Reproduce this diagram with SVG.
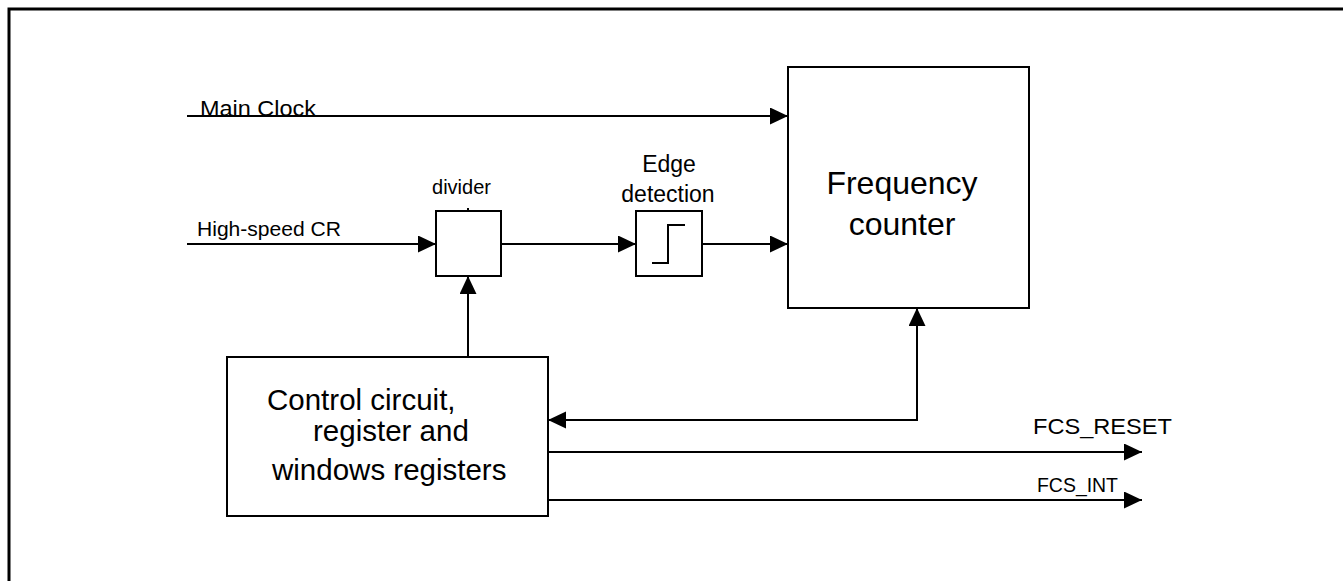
<svg xmlns="http://www.w3.org/2000/svg" width="1343" height="581" viewBox="0 0 1343 581">
<style>
.box{fill:#fff;stroke:#000;stroke-width:2}
.ln{fill:none;stroke:#000;stroke-width:2}
.t{font-family:"Liberation Sans",Arial,sans-serif;fill:#000}
</style>
<defs>
<marker id="ah" markerUnits="userSpaceOnUse" markerWidth="19" markerHeight="18" refX="18" refY="8.5" orient="auto-start-reverse">
<path d="M0,0 L18,8.5 L0,17 z" fill="#000"/>
</marker>
</defs>
<rect width="1343" height="581" fill="#fff"/>
<path d="M9,581 V9 H1343" fill="none" stroke="#000" stroke-width="3"/>

<g id="connectors">
<path class="ln" d="M187,116 H788" marker-end="url(#ah)"/>
<path class="ln" d="M187,244 H436" marker-end="url(#ah)"/>
<path class="ln" d="M501,244 H636" marker-end="url(#ah)"/>
<path class="ln" d="M702,244 H788" marker-end="url(#ah)"/>
<path class="ln" d="M468,357 V276" marker-end="url(#ah)"/>
<path class="ln" d="M917,308 V420 H548" marker-start="url(#ah)" marker-end="url(#ah)"/>
<path class="ln" d="M548,452 H1142" marker-end="url(#ah)"/>
<path class="ln" d="M548,500 H1142" marker-end="url(#ah)"/>
<path class="ln" d="M468,208 V211"/>
</g>

<g id="labels">
<text class="t" x="200" y="116" font-size="22" textLength="116" lengthAdjust="spacingAndGlyphs">Main Clock</text>
<text class="t" x="197" y="236" font-size="21" textLength="144" lengthAdjust="spacingAndGlyphs">High-speed CR</text>
<text class="t" x="1033" y="434" font-size="22" textLength="139" lengthAdjust="spacingAndGlyphs">FCS_RESET</text>
<text class="t" x="1037" y="492" font-size="20" textLength="81" lengthAdjust="spacingAndGlyphs">FCS_INT</text>
</g>

<g id="divider">
<rect class="box" x="436" y="211" width="65" height="65"/>
<text class="t" x="461.5" y="194" font-size="20" text-anchor="middle">divider</text>
</g>

<g id="edge-detection">
<rect class="box" x="636" y="211" width="66" height="65"/>
<path class="ln" d="M652,263 H668 V225 H685"/>
<text class="t" x="669" y="172" font-size="23" text-anchor="middle">Edge</text>
<text class="t" x="668" y="202" font-size="23" text-anchor="middle">detection</text>
</g>

<g id="frequency-counter">
<rect class="box" x="788" y="67" width="241" height="241"/>
<text class="t" x="902" y="194" font-size="32" text-anchor="middle">Frequency</text>
<text class="t" x="902" y="235" font-size="32" text-anchor="middle">counter</text>
</g>

<g id="control-circuit">
<rect class="box" x="227" y="357" width="321" height="159"/>
<text class="t" x="267" y="410" font-size="29.5">Control circuit,</text>
<text class="t" x="313" y="441" font-size="29.5">register and</text>
<text class="t" x="272" y="480" font-size="29.5">windows registers</text>
</g>
</svg>
